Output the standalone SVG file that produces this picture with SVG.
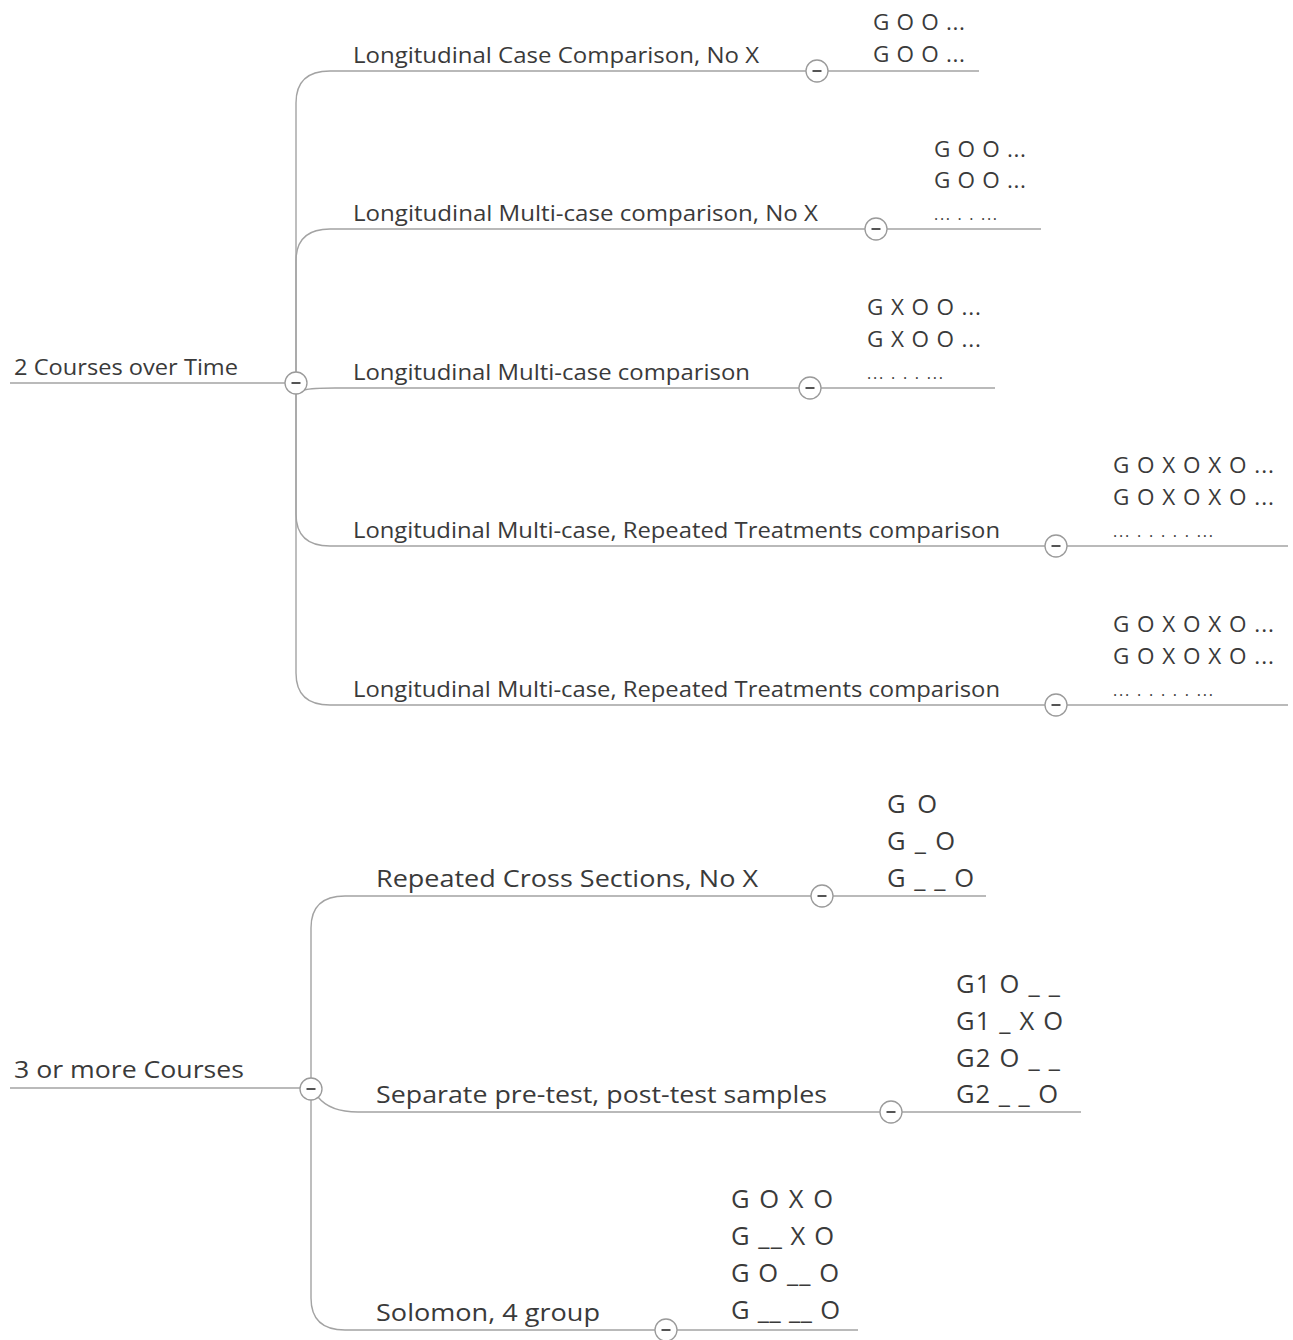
<svg xmlns="http://www.w3.org/2000/svg" width="1293" height="1340" viewBox="0 0 1293 1340">
<style>
text{font-family:"Open Sans","Noto Sans","Liberation Sans",sans-serif;fill:#3a3a3a}
.t{font-size:21px}
.b{font-size:24px}
.g{font-size:22.5px}
.gb{font-size:25.5px}
.d{font-size:16px}
.ln{fill:none;stroke:#a3a3a3;stroke-width:1.4}
.tog circle{fill:#fff;stroke:#9a9a9a;stroke-width:1.3}
.tog line{stroke:#555;stroke-width:2}
</style>
<defs>
<g id="tg" class="tog"><circle cx="0" cy="0" r="11"/><line x1="-4.5" y1="0" x2="4.5" y2="0"/></g>
</defs>
<rect width="1293" height="1340" fill="#fff"/>
<g id="connectors">
<path class="ln" d="M10,383 H285"/>
<path class="ln" d="M296,372 V103 Q296,71 330,71 H806"/>
<path class="ln" d="M296,372 V261 Q296,229 330,229 H865"/>
<path class="ln" d="M304,390 Q312,388 335,388 H799"/>
<path class="ln" d="M296,394 V514 Q296,546 330,546 H1045"/>
<path class="ln" d="M296,394 V673 Q296,705 330,705 H1045"/>
<path class="ln" d="M828,71 H979"/>
<path class="ln" d="M887,229 H1041"/>
<path class="ln" d="M821,388 H995"/>
<path class="ln" d="M1067,546 H1288"/>
<path class="ln" d="M1067,705 H1288"/>
<path class="ln" d="M10,1088 H300"/>
<path class="ln" d="M311,1078 V928 Q311,896 345,896 H811"/>
<path class="ln" d="M318,1097 Q330,1112 358,1112 H880"/>
<path class="ln" d="M311,1100 V1298 Q311,1330 345,1330 H655"/>
<path class="ln" d="M833,896 H986"/>
<path class="ln" d="M902,1112 H1081"/>
<path class="ln" d="M677,1330 H858"/>
</g>
<g id="root1"><text class="t" x="14" y="375" textLength="224" lengthAdjust="spacingAndGlyphs">2 Courses over Time</text><use href="#tg" x="296" y="383"/></g>
<g id="n1"><text class="t" x="353" y="63" textLength="406" lengthAdjust="spacingAndGlyphs">Longitudinal Case Comparison, No X</text><use href="#tg" x="817" y="71"/></g>
<g id="n1g"><text class="g" x="873" y="30" textLength="92" lengthAdjust="spacing">G O O ...</text><text class="g" x="873" y="62" textLength="92" lengthAdjust="spacing">G O O ...</text></g>
<g id="n2"><text class="t" x="353" y="221" textLength="465" lengthAdjust="spacingAndGlyphs">Longitudinal Multi-case comparison, No X</text><use href="#tg" x="876" y="229"/></g>
<g id="n2g"><text class="g" x="934" y="157" textLength="92" lengthAdjust="spacing">G O O ...</text><text class="g" x="934" y="188" textLength="92" lengthAdjust="spacing">G O O ...</text><text class="d" x="934" y="220" textLength="63" lengthAdjust="spacing">... . . ...</text></g>
<g id="n3"><text class="t" x="353" y="380" textLength="397" lengthAdjust="spacingAndGlyphs">Longitudinal Multi-case comparison</text><use href="#tg" x="810" y="388"/></g>
<g id="n3g"><text class="g" x="867" y="315" textLength="114" lengthAdjust="spacing">G X O O ...</text><text class="g" x="867" y="347" textLength="114" lengthAdjust="spacing">G X O O ...</text><text class="d" x="867" y="379" textLength="76" lengthAdjust="spacing">... . . . ...</text></g>
<g id="n4"><text class="t" x="353" y="538" textLength="647" lengthAdjust="spacingAndGlyphs">Longitudinal Multi-case, Repeated Treatments comparison</text><use href="#tg" x="1056" y="546"/></g>
<g id="n4g"><text class="g" x="1113" y="473" textLength="161" lengthAdjust="spacing">G O X O X O ...</text><text class="g" x="1113" y="505" textLength="161" lengthAdjust="spacing">G O X O X O ...</text><text class="d" x="1113" y="537" textLength="100" lengthAdjust="spacing">... . . . . . ...</text></g>
<g id="n5"><text class="t" x="353" y="697" textLength="647" lengthAdjust="spacingAndGlyphs">Longitudinal Multi-case, Repeated Treatments comparison</text><use href="#tg" x="1056" y="705"/></g>
<g id="n5g"><text class="g" x="1113" y="632" textLength="161" lengthAdjust="spacing">G O X O X O ...</text><text class="g" x="1113" y="664" textLength="161" lengthAdjust="spacing">G O X O X O ...</text><text class="d" x="1113" y="696" textLength="100" lengthAdjust="spacing">... . . . . . ...</text></g>
<g id="root2"><text class="b" x="14" y="1078" textLength="230" lengthAdjust="spacingAndGlyphs">3 or more Courses</text><use href="#tg" x="311" y="1089"/></g>
<g id="m1"><text class="b" x="376" y="887" textLength="382" lengthAdjust="spacingAndGlyphs">Repeated Cross Sections, No X</text><use href="#tg" x="822" y="896"/></g>
<g id="m1g"><text class="gb" x="887" y="813" textLength="50" lengthAdjust="spacing">G O</text><text class="gb" x="887" y="850" textLength="68" lengthAdjust="spacing">G _ O</text><text class="gb" x="887" y="887" textLength="87" lengthAdjust="spacing">G _ _ O</text></g>
<g id="m2"><text class="b" x="376" y="1103" textLength="451" lengthAdjust="spacingAndGlyphs">Separate pre-test, post-test samples</text><use href="#tg" x="891" y="1112"/></g>
<g id="m2g"><text class="gb" x="956" y="993" textLength="104" lengthAdjust="spacing">G1 O _ _</text><text class="gb" x="956" y="1030" textLength="107" lengthAdjust="spacing">G1 _ X O</text><text class="gb" x="956" y="1067" textLength="104" lengthAdjust="spacing">G2 O _ _</text><text class="gb" x="956" y="1103" textLength="102" lengthAdjust="spacing">G2 _ _ O</text></g>
<g id="m3"><text class="b" x="376" y="1321" textLength="224" lengthAdjust="spacingAndGlyphs">Solomon, 4 group</text><use href="#tg" x="666" y="1330"/></g>
<g id="m3g"><text class="gb" x="731" y="1208" textLength="102" lengthAdjust="spacing">G O X O</text><text class="gb" x="731" y="1245" textLength="103" lengthAdjust="spacing">G __ X O</text><text class="gb" x="731" y="1282" textLength="108" lengthAdjust="spacing">G O __ O</text><text class="gb" x="731" y="1319" textLength="109" lengthAdjust="spacing">G __ __ O</text></g>
</svg>
